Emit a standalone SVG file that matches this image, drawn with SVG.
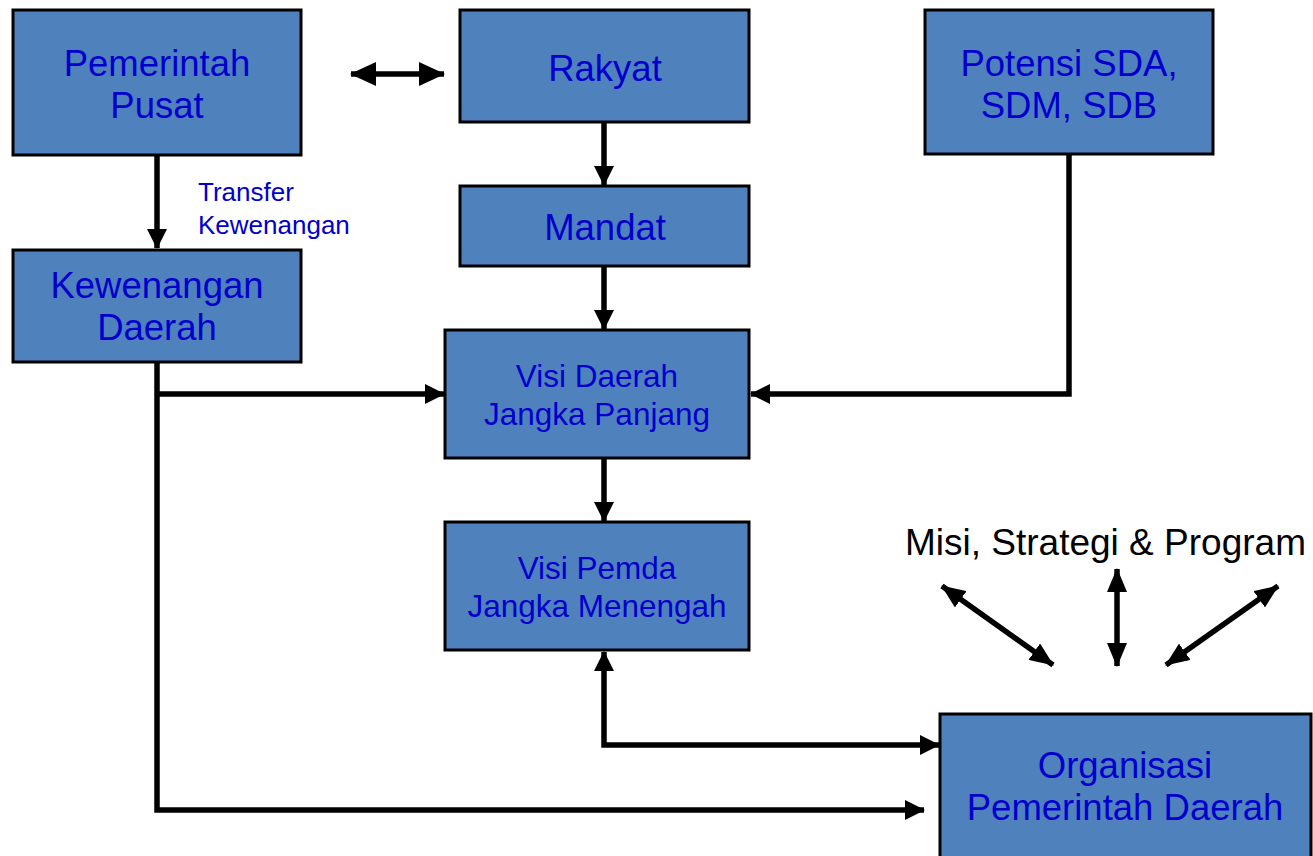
<svg xmlns="http://www.w3.org/2000/svg" width="1313" height="856" viewBox="0 0 1313 856">
  <style>
    .box { fill: #4f81bd; stroke: #000; stroke-width: 3; }
    .lbl { font-family: "Liberation Sans", Arial, sans-serif; fill: #0000cc; text-anchor: middle; }
    .big { font-size: 36.5px; }
    .mid { font-size: 31.5px; }
    .small { font-size: 26px; text-anchor: start; }
    .note { font-family: "Liberation Sans", Arial, sans-serif; font-size: 37px; fill: #000; }
    .wire { fill: none; stroke: #000; stroke-width: 5.5; }
  </style>
  <defs>
    <marker id="head" viewBox="0 0 20 20" refX="19" refY="10" markerWidth="20" markerHeight="20" markerUnits="userSpaceOnUse" orient="auto-start-reverse">
      <path d="M0,0 L20,10 L0,20 Z" fill="#000"/>
    </marker>
    <marker id="wide-head" viewBox="0 0 26 24" refX="25" refY="12" markerWidth="26" markerHeight="24" markerUnits="userSpaceOnUse" orient="auto-start-reverse">
      <path d="M0,0 L26,12 L0,24 Z" fill="#000"/>
    </marker>
    <marker id="fan-head" viewBox="0 0 24 20" refX="23" refY="10" markerWidth="24" markerHeight="20" markerUnits="userSpaceOnUse" orient="auto-start-reverse">
      <path d="M0,0 L24,10 L0,20 Z" fill="#000"/>
    </marker>
  </defs>
  <rect width="1313" height="856" fill="#fff"/>

  <g id="connectors">
    <line class="wire" x1="351" y1="74" x2="444" y2="74" marker-start="url(#wide-head)" marker-end="url(#wide-head)"/>
    <line class="wire" x1="157" y1="155" x2="157" y2="248" marker-end="url(#head)"/>
    <line class="wire" x1="604" y1="122" x2="604" y2="185" marker-end="url(#head)"/>
    <line class="wire" x1="604" y1="266" x2="604" y2="329" marker-end="url(#head)"/>
    <line class="wire" x1="604" y1="458" x2="604" y2="521" marker-end="url(#head)"/>
    <polyline class="wire" points="157,362 157,810 924,810" marker-end="url(#head)"/>
    <line class="wire" x1="157" y1="394" x2="444" y2="394" marker-end="url(#head)"/>
    <polyline class="wire" points="1069,154 1069,394 751,394" marker-end="url(#head)"/>
    <polyline class="wire" points="604,652 604,745 939,745" marker-start="url(#head)" marker-end="url(#head)"/>
    <line class="wire" x1="942" y1="586" x2="1053" y2="665" marker-start="url(#fan-head)" marker-end="url(#fan-head)"/>
    <line class="wire" x1="1117" y1="569" x2="1117" y2="666" marker-start="url(#fan-head)" marker-end="url(#fan-head)"/>
    <line class="wire" x1="1278" y1="586" x2="1166" y2="665" marker-start="url(#fan-head)" marker-end="url(#fan-head)"/>
  </g>

  <g id="pemerintah-pusat">
    <rect class="box" x="13" y="10" width="288" height="145"/>
    <text class="lbl big" x="157" y="76">Pemerintah</text>
    <text class="lbl big" x="157" y="118">Pusat</text>
  </g>
  <g id="rakyat">
    <rect class="box" x="460" y="10" width="289" height="112"/>
    <text class="lbl big" x="605" y="81">Rakyat</text>
  </g>
  <g id="potensi">
    <rect class="box" x="925" y="10" width="288" height="144"/>
    <text class="lbl big" x="1069" y="76">Potensi SDA,</text>
    <text class="lbl big" x="1069" y="118">SDM, SDB</text>
  </g>
  <g id="transfer-label">
    <text class="lbl small" x="198" y="201">Transfer</text>
    <text class="lbl small" x="198" y="234">Kewenangan</text>
  </g>
  <g id="kewenangan-daerah">
    <rect class="box" x="13" y="250" width="288" height="112"/>
    <text class="lbl big" x="157" y="298">Kewenangan</text>
    <text class="lbl big" x="157" y="340">Daerah</text>
  </g>
  <g id="mandat">
    <rect class="box" x="460" y="186" width="289" height="80"/>
    <text class="lbl big" x="605" y="240">Mandat</text>
  </g>
  <g id="visi-daerah">
    <rect class="box" x="445" y="330" width="304" height="128"/>
    <text class="lbl mid" x="597" y="387">Visi Daerah</text>
    <text class="lbl mid" x="597" y="425">Jangka Panjang</text>
  </g>
  <g id="visi-pemda">
    <rect class="box" x="445" y="522" width="304" height="128"/>
    <text class="lbl mid" x="597" y="579">Visi Pemda</text>
    <text class="lbl mid" x="597" y="617">Jangka Menengah</text>
  </g>
  <g id="misi-label">
    <text class="note" x="905" y="555">Misi, Strategi &amp; Program</text>
  </g>
  <g id="organisasi">
    <rect class="box" x="940" y="714" width="371" height="150"/>
    <text class="lbl big" x="1125" y="778">Organisasi</text>
    <text class="lbl big" x="1125" y="820">Pemerintah Daerah</text>
  </g>
</svg>
